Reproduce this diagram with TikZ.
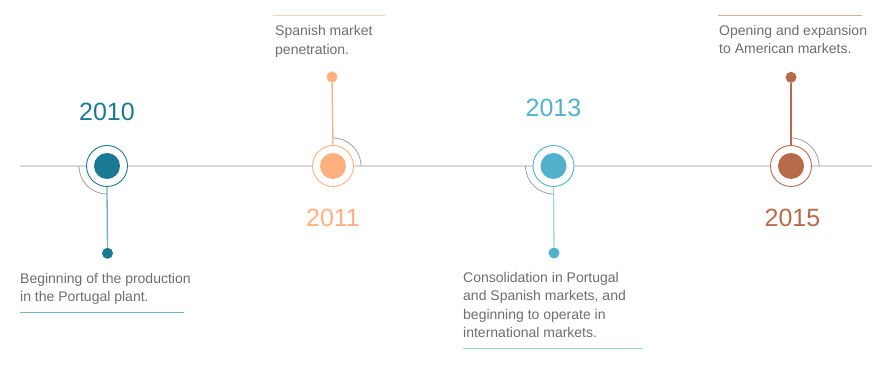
\documentclass[tikz,border=0pt]{standalone}
\usepackage{fontspec}
\setmainfont{Liberation Sans}
\definecolor{cA}{HTML}{1B7A93}
\definecolor{cAl}{HTML}{72AFC0}
\definecolor{cAu}{HTML}{6FB9C8}
\definecolor{cB}{HTML}{FFB07F}
\definecolor{cBu}{HTML}{FDD3B5}
\definecolor{cC}{HTML}{52B1CD}
\definecolor{cCl}{HTML}{A3D6E5}
\definecolor{cCu}{HTML}{9CD3E3}
\definecolor{cD}{HTML}{B86B4A}
\definecolor{cDu}{HTML}{D4B09C}
\definecolor{axisgray}{HTML}{D9D9D9}
\definecolor{arcgray}{HTML}{A0A0A0}
\definecolor{txtgray}{HTML}{6D6D6D}
\begin{document}
\begin{tikzpicture}[x=1pt,y=1pt,
  core/.style={circle,fill=#1,minimum size=26pt,inner sep=0pt},
  ring/.style={circle,draw=#1,line width=0.9pt,minimum size=41pt,inner sep=0pt},
  enddot/.style={circle,fill=#1,minimum size=11pt,inner sep=0pt},
  conn/.style={draw=#1,line width=1.3pt},
  garc/.style={draw=arcgray,line width=0.8pt},
  year/.style={text=#1,font=\fontsize{25}{25}\selectfont,anchor=base,inner sep=0pt},
  desc/.style={text=txtgray,font=\fontsize{14}{18.5}\selectfont,align=left,anchor=base west,inner sep=0pt},
  hline/.style={draw=#1,line width=1.1pt}]
\useasboundingbox (0,0) rectangle (884,369);
% axis
\coordinate (axL) at (20,203);
\coordinate (axR) at (872,203);
\draw[draw=axisgray,line width=1.5pt] (axL) -- (axR);
% 2010
\node[ring=cA,fill=white] (r1) at (107,203) {};
\node[core=cA] (c1) at (r1.center) {};
\node[enddot=cA] (d1) at (107.5,115.7) {};
\draw[conn=cAl] (r1.south) -- (d1);
\draw[garc] ([shift={(180:28pt)}]r1.center) arc[start angle=180,end angle=270,radius=28pt];
\node[year=cA] (y1) at (107,248.3) {2010};
\node[desc] (t1) at (20,67) {Beginning of the production\\in the Portugal plant.};
\coordinate (u1a) at (20,56.5);
\coordinate (u1b) at (184,56.5);
\draw[hline=cAu] (u1a) -- (u1b);
% 2011
\node[ring=cB,fill=white] (r2) at (333,203) {};
\node[core=cB] (c2) at (r2.center) {};
\node[enddot=cB] (d2) at (332,292) {};
\draw[conn=cB] (r2.north) -- (d2);
\draw[garc] ([shift={(90:28pt)}]r2.center) arc[start angle=90,end angle=0,radius=28pt];
\node[year=cB] (y2) at (333,142.3) {2011};
\node[desc] (t2) at (275,314.7) {Spanish market\\penetration.};
\coordinate (u2a) at (273,353.5);
\coordinate (u2b) at (385,353.5);
\draw[hline=cBu] (u2a) -- (u2b);
% 2013
\node[ring=cC,fill=white] (r3) at (553.5,203) {};
\node[core=cC] (c3) at (r3.center) {};
\node[enddot=cC] (d3) at (554,116) {};
\draw[conn=cCl] (r3.south) -- (d3);
\draw[garc] ([shift={(180:28pt)}]r3.center) arc[start angle=180,end angle=270,radius=28pt];
\node[year=cC] (y3) at (553.5,252.3) {2013};
\node[desc] (t3) at (463,31) {Consolidation in Portugal\\and Spanish markets, and\\beginning to operate in\\international markets.};
\coordinate (u3a) at (463,20.5);
\coordinate (u3b) at (643,20.5);
\draw[hline=cCu] (u3a) -- (u3b);
% 2015
\node[ring=cD,fill=white] (r4) at (791,203) {};
\node[core=cD] (c4) at (r4.center) {};
\node[enddot=cD] (d4) at (791,291.7) {};
\draw[conn=cD] (r4.north) -- (d4);
\draw[garc] ([shift={(90:28pt)}]r4.center) arc[start angle=90,end angle=0,radius=28pt];
\node[year=cD] (y4) at (792.5,142.3) {2015};
\node[desc] (t4) at (719,315) {Opening and expansion\\to American markets.};
\coordinate (u4a) at (718,353.5);
\coordinate (u4b) at (862,353.5);
\draw[hline=cDu] (u4a) -- (u4b);
\end{tikzpicture}
\end{document}
